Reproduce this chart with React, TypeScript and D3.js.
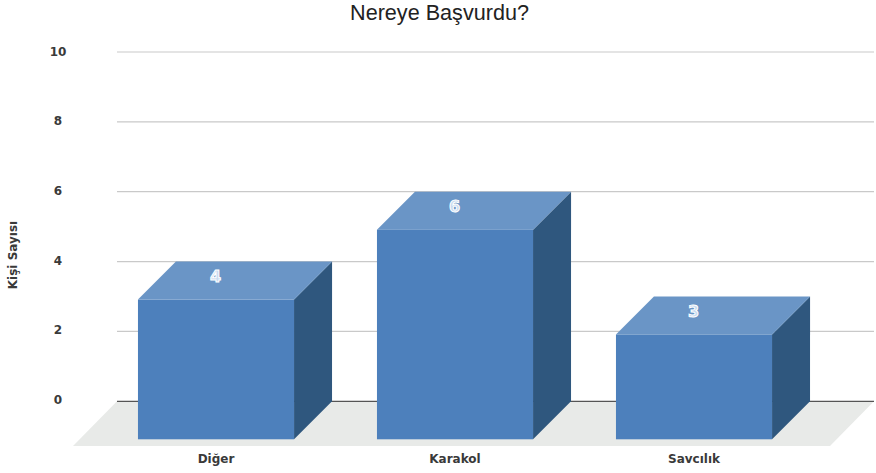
import React from "react";
import * as d3 from "d3";

const categories = ["Diğer", "Karakol", "Savcılık"];
const values = [4, 6, 3];
const yTicks = [0, 2, 4, 6, 8, 10];
const titleText = "Nereye Başvurdu?";
const yAxisTitle = "Kişi Sayısı";

const W = 876, H = 473;
const DEPTH = 38;
const FONT = "'DejaVu Sans', sans-serif";

export default function App() {
  // y scale is on the back wall; bars' front faces are shifted by DEPTH
  const y = d3.scaleLinear().domain([0, 10]).range([401.3, 52]);
  const labelY = d3.scaleLinear().domain([0, 10]).range([399.5, 51.5]);
  const x = d3.scaleBand<string>().domain(categories).range([96.5, 813.5]).paddingInner(0.347).paddingOuter(0.1735);
  const poly = (pts: [number, number][]) => pts.map(p => p.join(",")).join(" ");
  const base = y(0);
  return (
    <svg width={W} height={H} style={{ position: "absolute", left: 0, top: 0, background: "#fff" }}>
      <text x={439.5} y={20} textAnchor="middle" fontFamily="'Liberation Sans', Arial, sans-serif" fontSize={21.6} fill="#222">{titleText}</text>
      <polygon points={poly([[117, base], [874, base], [830, 446], [73, 446]])} fill="#e8eae8" />
      {yTicks.map(t => (
        <g key={t}>
          <line x1={117} x2={874} y1={y(t)} y2={y(t)} stroke={t === 0 ? "#555" : "#c9c9c9"} strokeWidth={1.2} />
          <text x={58} y={labelY(t)} dy="0.35em" textAnchor="middle" fontFamily={FONT} fontSize={12} fontWeight={700} fill="#3a3a3a">{t}</text>
        </g>
      ))}
      <text transform="translate(17,255) rotate(-90)" textAnchor="middle" fontFamily={FONT} fontSize={12} fontWeight={700} fill="#3a3a3a">{yAxisTitle}</text>
      {categories.map((c, i) => {
        const x0 = x(c)!;
        const x1 = x0 + x.bandwidth();
        const top = y(values[i]);
        const ft = top + DEPTH;
        const fb = base + DEPTH;
        return (
          <g key={c}>
            <polygon points={poly([[x1, ft], [x1 + DEPTH, top], [x1 + DEPTH, base], [x1, fb]])} fill="#2f577e" />
            <polygon points={poly([[x0, ft], [x0 + DEPTH, top], [x1 + DEPTH, top], [x1, ft]])} fill="#6a95c6" />
            <rect x={x0} y={ft} width={x.bandwidth()} height={fb - ft} fill="#4d80bc" />
            <text x={(x0 + x1) / 2 - 0.5} y={top + 14.5} dy="0.35em" textAnchor="middle" fontFamily={FONT} fontSize={16} fontWeight={700} fill="#c9dbf0" stroke="#fff" strokeWidth={1}>{values[i]}</text>
            <text x={(x0 + x1) / 2} y={459} dy="0.35em" textAnchor="middle" fontFamily={FONT} fontSize={12} fontWeight={700} fill="#3a3a3a">{c}</text>
          </g>
        );
      })}
    </svg>
  );
}
